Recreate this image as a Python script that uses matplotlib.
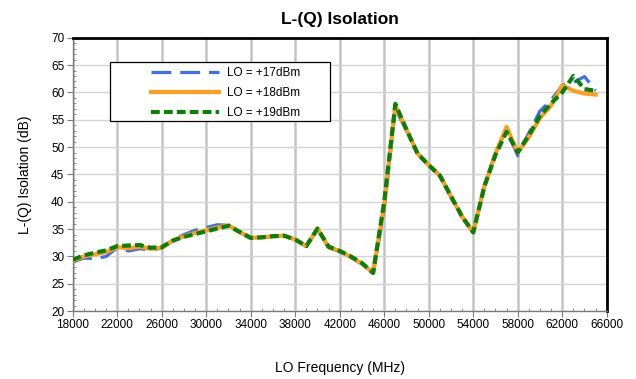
import numpy as np
import matplotlib
matplotlib.use('Agg')
import matplotlib.pyplot as plt
import matplotlib.ticker as ticker
from matplotlib.patches import Rectangle

plt.rcParams['font.family'] = ['Liberation Sans', 'DejaVu Sans']

# LO frequency (MHz), one point every 1000 MHz
freq = list(range(18000, 66000, 1000))

# L-(Q) isolation (dB)
iso_17 = [29.0, 29.7, 29.6, 30.0, 31.6, 31.0, 31.4, 31.2, 31.5, 33.0,
          34.0, 34.8, 35.3, 35.8, 35.7, 34.4, 33.3, 33.5, 33.7, 33.8,
          33.1, 31.8, 35.0, 31.6, 30.9, 29.8, 28.6, 26.9, 38.5, 57.0,
          53.0, 48.9, 46.8, 44.8, 40.8, 37.2, 34.4, 43.0, 49.0, 53.2,
          48.4, 52.6, 56.6, 58.6, 61.3, 61.8, 62.9, 60.3]
iso_18 = [29.2, 30.0, 30.4, 30.8, 31.7, 31.5, 31.8, 31.4, 31.6, 32.9,
          33.7, 34.3, 34.8, 35.3, 35.7, 34.5, 33.4, 33.5, 33.7, 33.8,
          33.1, 31.9, 35.1, 31.7, 31.0, 29.9, 28.7, 27.0, 39.5, 57.6,
          53.2, 48.8, 46.7, 44.8, 41.0, 37.3, 34.4, 42.8, 48.8, 53.7,
          49.0, 51.8, 55.3, 57.6, 61.3, 60.3, 59.8, 59.6]
iso_19 = [29.4, 30.2, 30.7, 31.1, 31.9, 32.0, 32.1, 31.6, 31.7, 32.9,
          33.6, 34.1, 34.6, 35.1, 35.6, 34.5, 33.4, 33.5, 33.7, 33.8,
          33.1, 31.9, 35.1, 31.8, 31.0, 30.0, 28.8, 27.0, 40.0, 57.9,
          53.2, 48.8, 46.7, 44.8, 41.0, 37.3, 34.4, 42.8, 48.6, 52.8,
          49.0, 52.2, 55.7, 58.0, 60.0, 63.0, 60.6, 60.3]

x_ticks = list(range(18000, 66001, 4000))

fig = plt.figure(figsize=(6.36, 3.79), dpi=100)
ax = fig.add_axes([0.1143, 0.179, 0.8397, 0.7215])

ax.plot(freq, iso_17, color='#3f6ef0', lw=2.3, dashes=(6.2, 2.8), label='LO = +17dBm', zorder=3)
ax.plot(freq, iso_18, color='#ff9e1b', lw=3.0, label='LO = +18dBm', zorder=4)
ax.plot(freq, iso_19, color='#0a800a', lw=3.0, dashes=(2.1, 1.0), label='LO = +19dBm', zorder=5)

ax.set_xlim(18000, 66000)
ax.set_ylim(20, 70)
ax.set_xticks(x_ticks)
ax.xaxis.set_minor_locator(ticker.MultipleLocator(1000))
ax.yaxis.set_major_locator(ticker.MultipleLocator(5))
ax.yaxis.set_minor_locator(ticker.MultipleLocator(1))

ax.grid(True, axis='x', which='major', color='#c4c4c4', lw=1.8, zorder=0)
ax.grid(True, axis='y', which='major', color='#d4d4d4', lw=1.0, zorder=0)
ax.set_axisbelow(True)

for side in ['top', 'right']:
    ax.spines[side].set_color('black')
    ax.spines[side].set_linewidth(2.0)
for side in ['left', 'bottom']:
    ax.spines[side].set_color('#7a7a7a')
    ax.spines[side].set_linewidth(1.0)

ax.tick_params(which='major', direction='out', length=4, color='#7a7a7a', labelsize=8.5, pad=2)
ax.tick_params(which='minor', direction='in', length=2, color='#7a7a7a')

ax.set_title('L-(Q) Isolation', fontsize=12.5, fontweight='bold', pad=10)
ax.set_xlabel('LO Frequency (MHz)', fontsize=10, labelpad=21)
ax.set_ylabel('L-(Q) Isolation (dB)', fontsize=10, labelpad=14)

# legend frame drawn separately: the original has wide empty margins
ax.add_patch(Rectangle((0.0698, 0.695), 0.412, 0.216, transform=ax.transAxes,
                       facecolor='white', edgecolor='black', lw=0.9, zorder=9))
leg = ax.legend(loc='upper left', bbox_to_anchor=(0.146, 0.894), fontsize=8.5,
                handlelength=5.8, handletextpad=0.63, borderpad=0,
                labelspacing=0.7, frameon=False, borderaxespad=0)
leg.set_zorder(10)

fig.savefig('out.png', dpi=100)
